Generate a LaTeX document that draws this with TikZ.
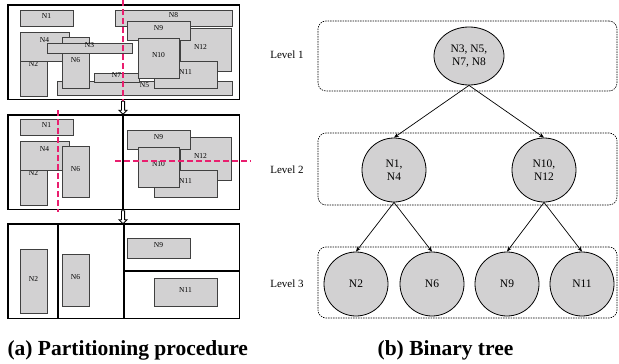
\documentclass[tikz,border=0pt]{standalone}
\usepackage{fontspec}
\setmainfont{Liberation Serif}
\usepackage{tikz}
\usetikzlibrary{positioning, fit, arrows.meta, shapes, shapes.arrows}
\definecolor{cutpink}{RGB}{233,30,110}
\definecolor{boxgray}{RGB}{210,209,210}
\tikzset{R/.style={draw=black!75, fill=boxgray, line width=0.8pt, inner sep=0pt, font=\fontsize{7.5}{8}\selectfont}}
\tikzset{F/.style={draw, line width=1.6pt}}
\tikzset{Cut/.style={draw=cutpink, line width=1.4pt, dash pattern=on 6pt off 3pt}}
\tikzset{DA/.style={draw, fill=white, line width=0.8pt, shape=single arrow, rotate=270, minimum height=13pt, minimum width=8pt, inner sep=1.2pt, single arrow head extend=2.5pt}}
\tikzset{C/.style={draw, circle, fill=boxgray, line width=0.8pt, inner sep=0pt, minimum size=64pt, align=center, font=\fontsize{11.5}{12.5}\selectfont}}
\tikzset{LB/.style={draw, rounded corners=8pt, line width=0.6pt, dash pattern=on 1.5pt off 1pt, minimum width=299pt}}
\tikzset{LT/.style={font=\fontsize{11}{12}\selectfont}}
\tikzset{E/.style={draw, line width=0.7pt, -{Stealth[length=5pt,width=4pt]}}}
\tikzset{CapT/.style={font=\fontsize{21.5}{24}\selectfont\bfseries}}

\begin{document}
\begin{tikzpicture}[x=1pt, y=-1pt, on grid]
        \useasboundingbox (0,0) rectangle (619,364);
        %% (a) Step 1
        \draw[F] (8,5) rectangle (239.5,99.5);
        \node[R, fit={(115,10) (232,26)}] (a8) {N8};
        \node[R, fit={(180,28) (231,71)}] (a12) {\hspace*{-10pt}N12};
        \node[R, fit={(127,21) (190,40)}] (a9) {N9};
        \node[R, fit={(57,81) (232,95)}] (a5) {N5};
        \node[R, fit={(154,61) (217,88)}] (a11) {N11};
        \node[R, fit={(94,73) (139,82)}] (a7) {N7};
        \node[R, fit={(138,38) (179,78)}] (a10) {N10};
        \node[R, fit={(20,32) (47,96)}] (a2) {\raisebox{-4.5pt}{N2}};
        \node[R, fit={(20,32) (69,61)}] (a4) {\raisebox{4pt}{N4}};
        \node[R, fit={(62,37) (89,88)}] (a6) {N6};
        \node[R, fit={(47,43) (132,53)}] (a3) {N3};
        \node[R, fit={(20,10) (73,26)}] (a1) {N1};
        \draw[Cut] (123,0) -- (123,101);
        \node[DA] (d1) at (123,107) {};
        %% (a) Step 2
        \draw[F] (8,115) rectangle (239.5,209.5);
        \draw[F] (123,115) -- (123,209.5);
        \node[R, fit={(20,141) (47,205)}] (b2) {\raisebox{-4.5pt}{N2}};
        \node[R, fit={(20,141) (69,170)}] (b4) {\raisebox{4pt}{N4}};
        \node[R, fit={(62,146) (89,197)}] (b6) {N6};
        \node[R, fit={(20,119) (73,135)}] (b1) {N1};
        \node[R, fit={(180,137) (231,180)}] (b12) {\hspace*{-10pt}N12};
        \node[R, fit={(127,130) (190,149)}] (b9) {N9};
        \node[R, fit={(154,170) (217,197)}] (b11) {N11};
        \node[R, fit={(138,147) (179,187)}] (b10) {N10};
        \draw[Cut] (58,110) -- (58,212);
        \draw[Cut] (115,161) -- (251,161);
        \node[DA] (d2) at (123,216.5) {};
        %% (a) Step 3
        \draw[F] (8,224) rectangle (239.5,318.5);
        \draw[F] (58,224) -- (58,318.5);
        \draw[F] (124,224) -- (124,318.5);
        \draw[F] (124,271) -- (239.5,271);
        \node[R, fit={(20,249) (47,313)}] (c2) {N2};
        \node[R, fit={(62,254) (89,306)}] (c6) {N6};
        \node[R, fit={(127,238) (190,258)}] (c9) {N9};
        \node[R, fit={(154,278) (217,306)}] (c11) {N11};
        %% (b) Levels
        \node[LB, minimum height=70pt] (lv1) at (467.5,56) {};
        \node[LB, minimum height=72pt] (lv2) at (467.5,169) {};
        \node[LB, minimum height=71pt] (lv3) at (467.5,282.5) {};
        \node[LT] (t1) at (287,55) {Level 1};
        \node[LT] (t2) at (287,170) {Level 2};
        \node[LT] (t3) at (287,284) {Level 3};
        %% (b) Tree
        \node[C, ellipse, minimum width=70pt, minimum height=58pt] (root) at (469,56) {N3, N5,\\N7, N8};
        \node[C, below left=114pt and 75pt of root] (n14) {N1,\\N4};
        \node[C, below right=114pt and 75pt of root] (n1012) {N10,\\N12};
        \node[C, below left=114pt and 38pt of n14] (n2) {N2};
        \node[C, below right=114pt and 38pt of n14] (n6) {N6};
        \node[C, below left=114pt and 37pt of n1012] (n9) {N9};
        \node[C, below right=114pt and 38pt of n1012] (n11) {N11};
        \draw[E] (root.south) -- (n14.north);
        \draw[E] (root.south) -- (n1012.north);
        \draw[E] (n14.south) -- (n2.north);
        \draw[E] (n14.south) -- (n6.north);
        \draw[E] (n1012.south) -- (n9.north);
        \draw[E] (n1012.south) -- (n11.north);
        %% Captions
        \node[CapT, anchor=base west] (capa) at (4,355) {(a) Partitioning procedure};
        \node[CapT, anchor=base] (capb) at (445.5,355) {(b) Binary tree};
\end{tikzpicture}
\end{document}
